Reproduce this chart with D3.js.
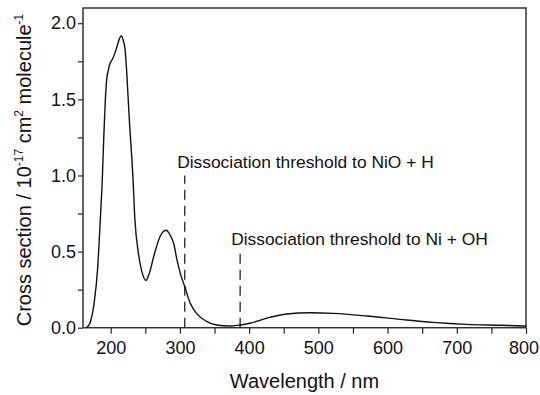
<!DOCTYPE html>
<html><head><meta charset="utf-8">
<script src="https://cdn.jsdelivr.net/npm/d3@7"></script>
<style>
body{margin:0;background:#fff}
svg{display:block}
text{font-family:"Liberation Sans",Arial,Helvetica,sans-serif;fill:#111}
</style>
</head><body>
<svg id="c" width="540" height="395"></svg>
<script>
// ---- data ----
const wavelength = [165,170,176,181,185,188,190,192,194,197,199,202,205,208,212,215,218,221,223,227,232,235,240,245,251,256,262,271,280,286,291,296,301,307,315,324,339,353,372,387,401,430,454,488,522,570,618,666,714,763,800];
const crossSection = [0.0,0.03,0.16,0.38,0.71,0.99,1.25,1.47,1.62,1.70,1.735,1.76,1.79,1.83,1.89,1.918,1.89,1.82,1.69,1.36,1.0,0.71,0.49,0.37,0.31,0.36,0.465,0.596,0.64,0.607,0.553,0.44,0.35,0.27,0.16,0.094,0.04,0.018,0.011,0.018,0.029,0.068,0.09,0.098,0.094,0.077,0.055,0.035,0.022,0.016,0.011];
const xTicks = [200,300,400,500,600,700,800];
const xMinorTicks = [250,350,450,550,650,750];
const yTicks = [0,0.5,1.0,1.5,2.0];
const yTickLabels = ["0.0","0.5","1.0","1.5","2.0"];
const yMinorTicks = [0.25,0.75,1.25,1.75];
const thresholdWavelengths = [307,387];
const thresholdTops = [1.0,0.5];
const thresholdLabels = ["Dissociation threshold to NiO + H","Dissociation threshold to Ni + OH"];
const labelAnchors = [[296,1.047],[374,0.543]];

// ---- layout ----
const W = 540, H = 395;
const m = {left:83, right:14, top:8, bottom:67.3};
const svg = d3.select("#c");
const x = d3.scaleLinear().domain([160,800]).range([m.left, W-m.right]);
const y = d3.scaleLinear().domain([0,2.1]).range([H-m.bottom, m.top]);
const ink = "#222";

// minor ticks
svg.append("g").attr("transform",`translate(0,${H-m.bottom})`)
  .call(d3.axisBottom(x).tickValues(xMinorTicks).tickSize(6).tickFormat(""))
  .call(g=>g.select(".domain").remove())
  .call(g=>g.selectAll("line").attr("stroke",ink).attr("stroke-width",1.2));
svg.append("g").attr("transform",`translate(${m.left},0)`)
  .call(d3.axisLeft(y).tickValues(yMinorTicks).tickSize(5).tickFormat(""))
  .call(g=>g.select(".domain").remove())
  .call(g=>g.selectAll("line").attr("stroke",ink).attr("stroke-width",1.2));

// major axes
svg.append("g").attr("transform",`translate(0,${H-m.bottom})`)
  .call(d3.axisBottom(x).tickValues(xTicks).tickSize(6).tickPadding(8).tickSizeOuter(0))
  .call(g=>g.select(".domain").remove())
  .call(g=>g.selectAll("line").attr("stroke",ink).attr("stroke-width",1.2))
  .call(g=>g.selectAll("text").attr("font-size",18).attr("fill","#111")
     .style("font-family","'Liberation Sans',Arial,sans-serif"))
  .call(g=>g.selectAll("text").filter(d=>d===800).attr("text-anchor","end").attr("dx",12.5));
svg.append("g").attr("transform",`translate(${m.left},0)`)
  .call(d3.axisLeft(y).tickValues(yTicks).tickFormat((d,i)=>yTickLabels[i]).tickSize(5).tickPadding(2).tickSizeOuter(0))
  .call(g=>g.select(".domain").remove())
  .call(g=>g.selectAll("line").attr("stroke",ink).attr("stroke-width",1.2))
  .call(g=>g.selectAll("text").attr("font-size",18).attr("fill","#111")
     .style("font-family","'Liberation Sans',Arial,sans-serif"));

// frame
svg.append("rect").attr("x",m.left).attr("y",m.top)
  .attr("width",W-m.left-m.right).attr("height",H-m.top-m.bottom)
  .attr("fill","none").attr("stroke","#333").attr("stroke-width",1.5);

// threshold dashed lines
thresholdWavelengths.forEach((w,i)=>{
  svg.append("line").attr("x1",x(w)).attr("x2",x(w))
    .attr("y1",y(0)).attr("y2",y(thresholdTops[i]))
    .attr("stroke",ink).attr("stroke-width",1.3).attr("stroke-dasharray","10,6");
  svg.append("text").attr("x",x(labelAnchors[i][0])).attr("y",y(labelAnchors[i][1]))
    .attr("font-size",17.4).text(thresholdLabels[i]);
});

// curve
const pts = wavelength.map((w,i)=>[w,crossSection[i]]);
svg.append("path").datum(pts)
  .attr("fill","none").attr("stroke","#111").attr("stroke-width",1.4)
  .attr("d", d3.line().x(d=>x(d[0])).y(d=>y(d[1])).curve(d3.curveMonotoneX));

// axis titles
svg.append("text").attr("x",(m.left+W-m.right)/2).attr("y",388)
  .attr("text-anchor","middle").attr("font-size",20).text("Wavelength / nm");
const yt = svg.append("text").attr("transform","translate(31,170) rotate(-90)")
  .attr("text-anchor","middle").attr("font-size",20);
yt.append("tspan").text("Cross section / 10");
yt.append("tspan").attr("dy",-8).attr("font-size",12).text("-17");
yt.append("tspan").attr("dy",8).text(" cm");
yt.append("tspan").attr("dy",-8).attr("font-size",12).text("2");
yt.append("tspan").attr("dy",8).text(" molecule");
yt.append("tspan").attr("dy",-8).attr("font-size",12).text("-1");
</script>
</body></html>
